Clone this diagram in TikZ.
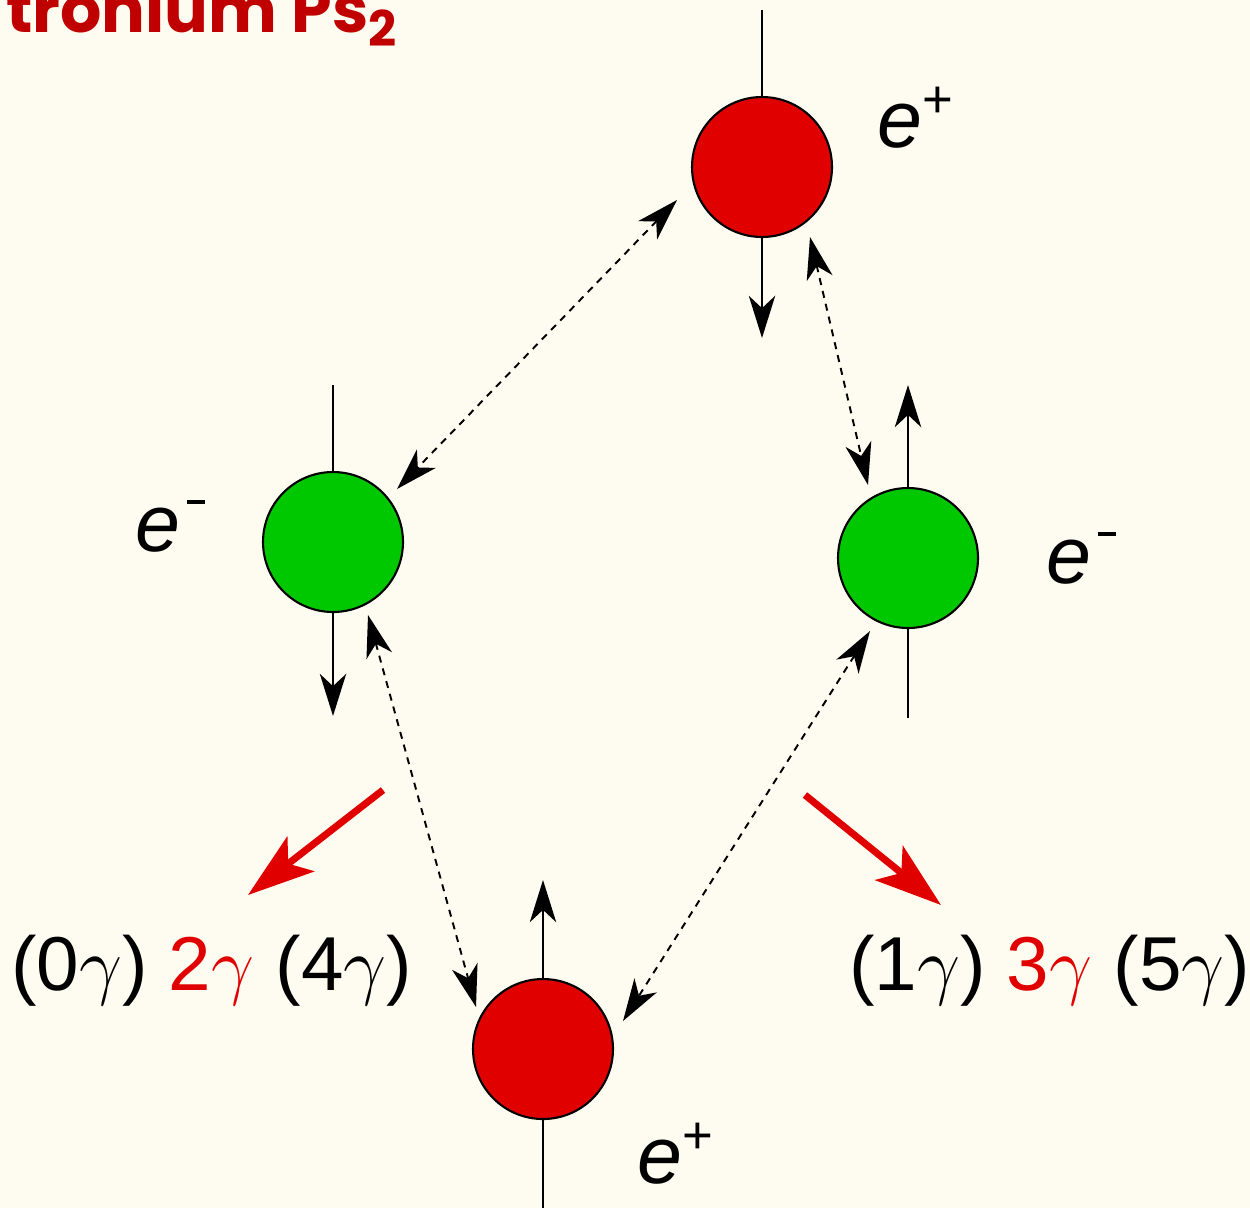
\documentclass[tikz,border=0pt]{standalone}
\usepackage{fix-cm}
\usepackage{fontspec}
\setmainfont{Liberation Sans}
\newfontfamily\titlefont{Poppins}
\usetikzlibrary{arrows.meta,calc}
\definecolor{bgc}{RGB}{254,252,240}
\definecolor{posred}{RGB}{224,0,0}
\definecolor{elgreen}{RGB}{0,200,0}
\definecolor{titred}{RGB}{192,0,0}
\tikzset{
  bhead/.tip={Stealth[length=24pt,width=15pt,inset=7pt]},
  rhead/.tip={Stealth[length=38pt,width=25pt,inset=9pt]},
  particle/.style={circle,draw=black,line width=1.2pt,minimum size=2.8cm,inner sep=0pt},
  positron/.style={particle,fill=posred},
  electron/.style={particle,fill=elgreen},
  spinline/.style={line width=1.1pt},
  spinarrow/.style={line width=1.1pt,-bhead},
  link/.style={line width=1.1pt,dash pattern=on 4pt off 3.5pt,bhead-bhead},
  decay/.style={line width=4pt,draw=posred,-rhead},
  elabel/.style={anchor=base west,inner sep=0pt,font=\itshape\fontsize{46}{50}\selectfont},
  glabel/.style={anchor=base west,inner sep=0pt,font=\fontsize{43.5}{52}\selectfont},
}
\newcommand{\supplus}{\raisebox{17pt}{\upshape\fontsize{30}{30}\selectfont +}}
\newcommand{\supminus}{\hspace{4pt}\rule[26.5pt]{10pt}{2.6pt}}
\newcommand{\gam}{$\gamma$}
\begin{document}
\begin{tikzpicture}[x=0.02cm,y=-0.02cm]
\fill[bgc] (0,0) rectangle (1250,1208);
\useasboundingbox (0,0) rectangle (1250,1208);
\clip (0,0) rectangle (1250,1208);

% title
\node[anchor=base west,inner sep=0pt,text=titred,font=\titlefont\bfseries\fontsize{37}{40}\selectfont] (title) at (6,32)
  {tronium\hspace{8pt}Ps\raisebox{-8pt}{\fontsize{28}{28}\selectfont 2}};

% particles
\node[positron] (tp) at (762,167) {};
\node[electron] (le) at (333,542) {};
\node[electron] (re) at (908,558) {};
\node[positron] (bp) at (543,1049) {};

% spin lines and arrows
\coordinate (tpt) at (762,10);
\coordinate (tpb) at (762,338);
\coordinate (let) at (333,385);
\coordinate (leb) at (333,716);
\coordinate (ret) at (908,385);
\coordinate (reb) at (908,718);
\coordinate (bpt) at (543,880);
\coordinate (bpb) at (543,1208);
\draw[spinline] (tpt) -- (tp.north);
\draw[spinarrow] (tp.south) -- (tpb);
\draw[spinline] (let) -- (le.north);
\draw[spinarrow] (le.south) -- (leb);
\draw[spinarrow] (re.north) -- (ret);
\draw[spinline] (re.south) -- (reb);
\draw[spinarrow] (bp.north) -- (bpt);
\draw[spinline] (bp.south) -- (bpb);

% interactions
\draw[link] ($(tp)+(-85,33)$) -- ($(le)+(64,-53)$);
\draw[link] ($(tp)+(48,70)$) -- ($(re)+(-40,-73)$);
\draw[link] ($(le)+(35,73)$) -- ($(bp)+(-67,-42)$);
\draw[link] ($(re)+(-38,73)$) -- ($(bp)+(80,-28)$);

% labels
\node[elabel] (tpl) at (877,147) {e\supplus};
\node[elabel] (lel) at (135,551) {e\supminus};
\node[elabel] (rel) at (1046,583) {e\supminus};
\node[elabel] (bpl) at (637,1183) {e\supplus};

% decays
\coordinate (d1s) at (383,790);
\coordinate (d1e) at (248,895);
\coordinate (d2s) at (805,795);
\coordinate (d2e) at (941,905);
\draw[decay] (d1s) -- (d1e);
\draw[decay] (d2s) -- (d2e);

\node[glabel] (even) at (11,990) {(0\gam) \textcolor{posred}{2\gam} (4\gam)};
\node[glabel] (odd) at (849,990) {(1\gam) \textcolor{posred}{3\gam} (5\gam)};
\end{tikzpicture}
\end{document}
